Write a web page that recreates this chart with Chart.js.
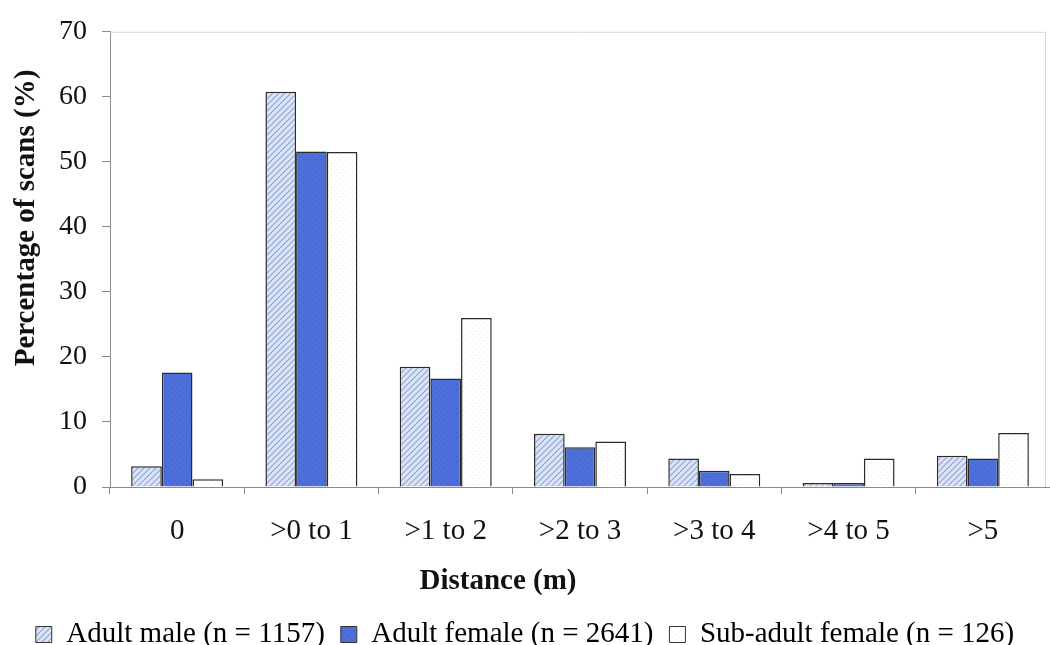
<!DOCTYPE html>
<html>
<head>
<meta charset="utf-8">
<script src="https://cdn.jsdelivr.net/npm/chart.js@4/dist/chart.umd.min.js"></script>
<style>
    html, body { margin: 0; padding: 0; background: #fff; }
    #wrap { width: 1050px; height: 645px; }
</style>
</head>
<body>
<div id="wrap"><canvas id="distChart" width="1050" height="645"></canvas></div>
<script>
// Data
const categories = ['0', '>0 to 1', '>1 to 2', '>2 to 3', '>3 to 4', '>4 to 5', '>5'];
const adultMale = [3.2, 60.8, 18.5, 8.2, 4.4, 0.6, 4.8];
const adultFemale = [17.6, 51.6, 16.7, 6.1, 2.5, 0.6, 4.4];
const subAdultFemale = [1.2, 51.5, 26.0, 7.0, 2.0, 4.4, 8.3];
const seriesNames = ['Adult male (n = 1157)', 'Adult female (n = 2641)', 'Sub-adult female (n = 126)'];
const yTicks = [0, 10, 20, 30, 40, 50, 60, 70];
const xTitle = 'Distance (m)';
const yTitle = 'Percentage of scans (%)';

const FONT = "'Liberation Serif', 'DejaVu Serif', serif";

// small canvas patterns for the bar fills
function makePattern(bg, draw) {
    const c = document.createElement('canvas');
    c.width = 6;
    c.height = 6;
    const g = c.getContext('2d');
    g.fillStyle = bg;
    g.fillRect(0, 0, 6, 6);
    draw(g);
    return g.createPattern(c, 'repeat');
}

const hatchFill = makePattern('#dbe4f7', function(g) {
    g.strokeStyle = '#8ea6de';
    g.lineWidth = 1.2;
    g.beginPath();
    g.moveTo(0, 6); g.lineTo(6, 0);
    g.moveTo(-3, 3); g.lineTo(3, -3);
    g.moveTo(3, 9); g.lineTo(9, 3);
    g.stroke();
});

const blueFill = makePattern('#4d6fd9', function(g) {
    g.fillStyle = '#3f5cc0';
    g.fillRect(0, 0, 1, 1);
    g.fillRect(3, 3, 1, 1);
});

const whiteFill = makePattern('#ffffff', function(g) {
    g.fillStyle = '#e4e8f0';
    g.fillRect(1, 1, 1, 1);
    g.fillRect(4, 4, 1, 1);
});

// light frame on top/right of the plot area + the two axis titles
// (the original figure is cropped on the right, so the titles sit left of the plot centre)
const framePlugin = {
    id: 'frame',
    beforeDatasetsDraw(chart) {
        const a = chart.chartArea;
        const ctx = chart.ctx;
        ctx.save();
        ctx.strokeStyle = '#d8d8d8';
        ctx.lineWidth = 1;
        ctx.beginPath();
        ctx.moveTo(a.left, a.top + 0.5);
        ctx.lineTo(a.right - 4.5, a.top + 0.5);
        ctx.lineTo(a.right - 4.5, a.bottom);
        ctx.stroke();
        ctx.restore();
    },
    afterDraw(chart) {
        const a = chart.chartArea;
        const ctx = chart.ctx;
        ctx.save();
        ctx.fillStyle = '#111';
        ctx.font = "bold 29px " + FONT;
        ctx.textAlign = 'center';
        ctx.textBaseline = 'middle';
        ctx.fillText(xTitle, 498, a.bottom + 95);
        ctx.translate(27, 218);
        ctx.rotate(-Math.PI / 2);
        ctx.fillText(yTitle, 0, 0);
        ctx.restore();
    }
};

const ctx = document.getElementById('distChart').getContext('2d');
const chart = new Chart(ctx, {
    type: 'bar',
    data: {
        labels: categories,
        datasets: [
            { label: seriesNames[0], data: adultMale, backgroundColor: hatchFill },
            { label: seriesNames[1], data: adultFemale, backgroundColor: blueFill },
            { label: seriesNames[2], data: subAdultFemale, backgroundColor: whiteFill }
        ].map(d => Object.assign(d, {
            borderColor: '#2b2b2b',
            borderWidth: 1.5,
            borderSkipped: 'bottom',
            categoryPercentage: 0.685,
            barPercentage: 1.0
        }))
    },
    options: {
        responsive: false,
        animation: false,
        layout: { padding: { top: 31, right: 0, left: 0, bottom: -14 } },
        plugins: {
            tooltip: { enabled: false },
            legend: {
                position: 'bottom',
                labels: {
                    font: { family: FONT, size: 29 },
                    color: '#111',
                    boxWidth: 16,
                    boxHeight: 16,
                    padding: 16,
                    generateLabels(chart) {
                        return chart.data.datasets.map((d, i) => ({
                            text: d.label,
                            fillStyle: d.backgroundColor,
                            strokeStyle: '#333',
                            lineWidth: 1,
                            datasetIndex: i
                        }));
                    }
                }
            }
        },
        scales: {
            x: {
                afterFit(axis) {
                    axis.height = 117;
                },
                grid: {
                    display: true,
                    drawOnChartArea: false,
                    drawTicks: true,
                    tickLength: 7,
                    color: '#8a8a8a'
                },
                border: { color: '#8a8a8a', width: 1 },
                ticks: {
                    font: { family: FONT, size: 29 },
                    color: '#111',
                    padding: 20,
                    maxRotation: 0
                }
            },
            y: {
                min: 0,
                max: 70,
                afterFit(axis) {
                    axis.width = 110;
                },
                afterBuildTicks(axis) {
                    axis.ticks = yTicks.map(v => ({ value: v }));
                },
                grid: {
                    display: true,
                    drawOnChartArea: false,
                    drawTicks: true,
                    tickLength: 8,
                    color: '#8a8a8a'
                },
                border: { color: '#8a8a8a', width: 1 },
                ticks: {
                    font: { family: FONT, size: 28 },
                    color: '#111',
                    padding: 15
                }
            }
        }
    },
    plugins: [framePlugin]
});
</script>
</body>
</html>
